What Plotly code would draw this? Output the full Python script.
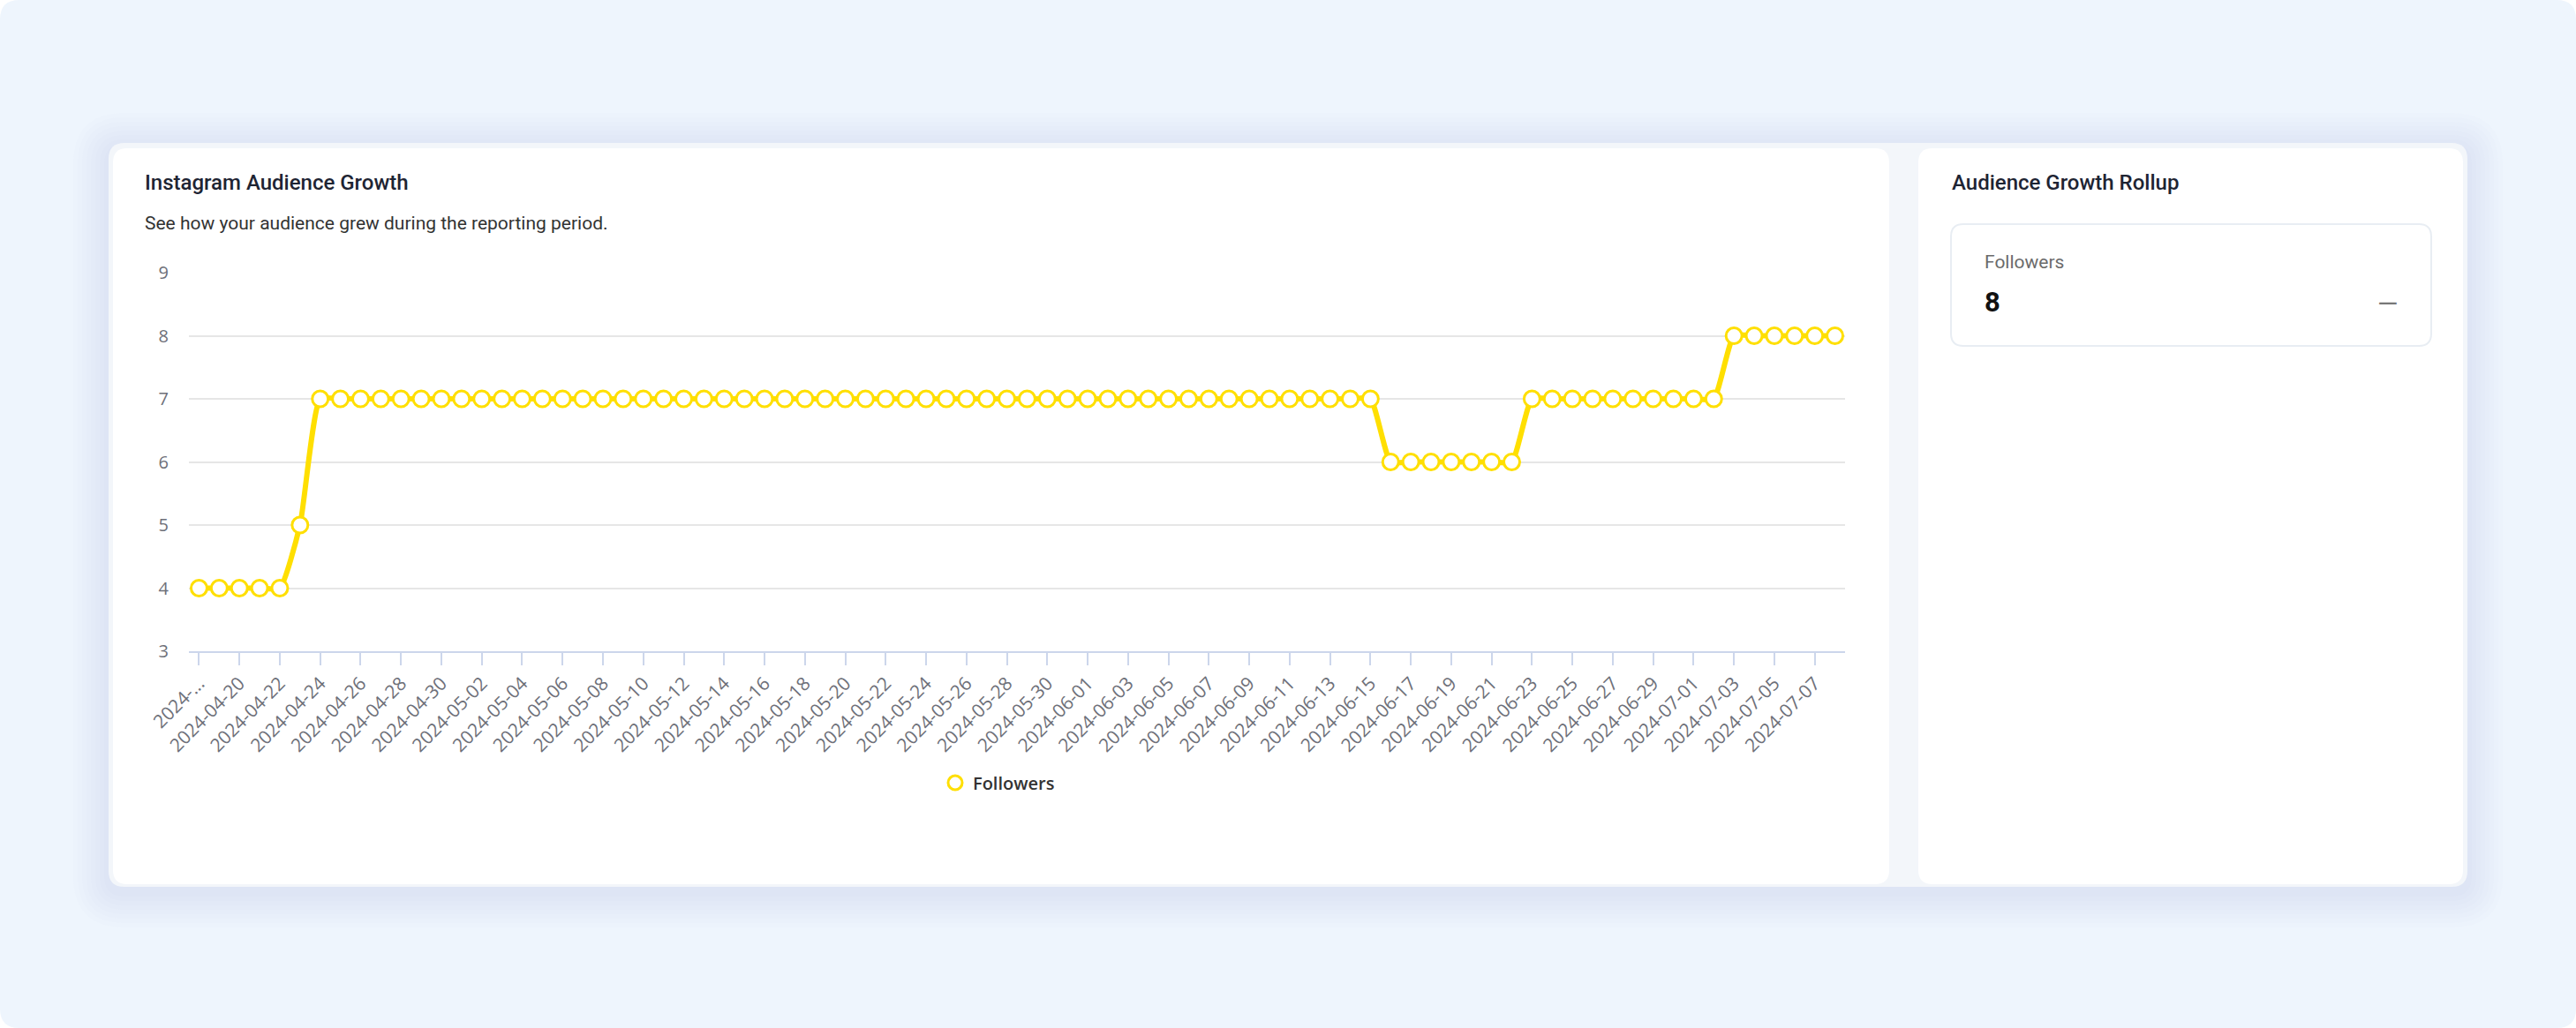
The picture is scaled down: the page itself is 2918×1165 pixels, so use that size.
import pandas as pd
import plotly.graph_objects as go

W, H = 2918, 1165

# data
dates = pd.date_range("2024-04-18", "2024-07-08").strftime("%Y-%m-%d").tolist()
followers = [
    4, 4, 4, 4, 4, 5, 7, 7, 7, 7, 7, 7, 7,           # Apr 18 - Apr 30
    7, 7, 7, 7, 7, 7, 7, 7, 7, 7, 7, 7, 7, 7, 7, 7,   # May 1 - May 16
    7, 7, 7, 7, 7, 7, 7, 7, 7, 7, 7, 7, 7, 7, 7,      # May 17 - May 31
    7, 7, 7, 7, 7, 7, 7, 7, 7, 7, 7, 7, 7, 7, 7,      # Jun 1 - Jun 15
    6, 6, 6, 6, 6, 6, 6,                              # Jun 16 - Jun 22
    7, 7, 7, 7, 7, 7, 7, 7, 7, 7,                     # Jun 23 - Jul 2
    8, 8, 8, 8, 8, 8,                                 # Jul 3 - Jul 8
]
tick_dates = dates[0:81:2]
tick_text = ["2024-..."] + tick_dates[1:]
y_ticks = [3, 4, 5, 6, 7, 8, 9]

rollup_label = "Followers"
rollup_value = "8"

YELLOW = "#FFDF00"


def X(px):
    return px / W


def Y(py):
    return 1 - py / H


def rrect(x0, y0, x1, y1, r):
    """rounded rectangle path in paper coords from pixel values"""
    return (
        f"M {X(x0 + r)},{Y(y0)} L {X(x1 - r)},{Y(y0)} "
        f"Q {X(x1)},{Y(y0)} {X(x1)},{Y(y0 + r)} "
        f"L {X(x1)},{Y(y1 - r)} Q {X(x1)},{Y(y1)} {X(x1 - r)},{Y(y1)} "
        f"L {X(x0 + r)},{Y(y1)} Q {X(x0)},{Y(y1)} {X(x0)},{Y(y1 - r)} "
        f"L {X(x0)},{Y(y0 + r)} Q {X(x0)},{Y(y0)} {X(x0 + r)},{Y(y0)} Z"
    )


def box(x0, y0, x1, y1, r, fill, line_color=None, line_width=0):
    return dict(
        type="path", xref="paper", yref="paper", layer="below",
        path=rrect(x0, y0, x1, y1, r), fillcolor=fill,
        line=dict(color=line_color or fill, width=line_width),
    )


shapes = [box(0, 0, W, H, 22, "#EEF5FD")]

# soft shadow around the outer card
for i in range(1, 9):
    d = 5 * i
    shapes.append(box(123 - d, 162 - d + 6, 2795 + d, 1005 + d + 6, 18 + d,
                      "rgba(140,165,210,0.02)"))

shapes += [
    box(123, 162, 2795, 1005, 18, "#F3F6FA"),
    box(128, 168, 2140, 1002, 16, "#FFFFFF"),
    box(2173, 168, 2790, 1002, 16, "#FFFFFF"),
    box(2210, 254, 2754, 392, 14, "#FFFFFF", "#E8EDF3", 2),
]


def label(text, px, py, size, color, weight=400, anchor="left", family="Roboto"):
    return dict(
        text=text, x=X(px), y=Y(py), xref="paper", yref="paper",
        xanchor=anchor, yanchor="middle", showarrow=False,
        font=dict(family=family, size=size, color=color, weight=weight),
    )


annotations = [
    label("Instagram Audience Growth", 162, 207, 24, "#1E2433", 500),
    label("See how your audience grew during the reporting period.", 162, 253, 21, "#333333"),
    label("Audience Growth Rollup", 2209, 207, 24, "#1E2433", 500),
    label(rollup_label, 2246, 297, 21, "#6B6B6B"),
    label(rollup_value, 2246, 342, 31, "#111111", 700),
    label("—", 2718, 343, 30, "#777777", anchor="right"),
]

fig = go.Figure()

fig.add_trace(go.Scatter(
    x=dates, y=followers, mode="lines", showlegend=False, hoverinfo="skip",
    line=dict(color=YELLOW, width=6, shape="spline", smoothing=0.5),
    cliponaxis=False,
))
fig.add_trace(go.Scatter(
    x=dates, y=followers, mode="markers", name="Followers",
    marker=dict(symbol="circle", size=18, color="#FFFFFF",
                line=dict(color=YELLOW, width=3)),
    cliponaxis=False,
))

fig.update_layout(
    width=W, height=H, autosize=False,
    margin=dict(l=0, r=0, t=0, b=0, pad=0),
    paper_bgcolor="#FFFFFF",
    plot_bgcolor="rgba(0,0,0,0)",
    font=dict(family="Open Sans", color="#6E7079"),
    shapes=shapes,
    annotations=annotations,
    xaxis=dict(
        type="category", domain=[X(214), X(2090)], range=[-0.5, 81.5],
        automargin=False,
        showgrid=False, zeroline=False,
        showline=True, linecolor="#CCD6EB", linewidth=2,
        ticks="outside", ticklen=14, tickwidth=2, tickcolor="#CCD6EB",
        tickvals=tick_dates, ticktext=tick_text, tickangle=-45,
        tickfont=dict(size=21, color="#6E7079"),
    ),
    yaxis=dict(
        domain=[Y(738), Y(309)], range=[3, 9], tickvals=y_ticks,
        automargin=False,
        showgrid=True, gridcolor="#E6E6E6", gridwidth=2,
        zeroline=False, showline=False, ticks="",
        ticklabelstandoff=22,
        tickfont=dict(size=20, color="#6E7079"),
    ),
    legend=dict(
        x=X(1062), y=Y(887), xanchor="left", yanchor="middle",
        orientation="h", bgcolor="rgba(0,0,0,0)",
        font=dict(family="Open Sans", size=20, color="#333333", weight=600),
    ),
)

# drop the default page margin so the figure sits at the window's corner
fig.write_html("out.html", config={"displayModeBar": False},
               post_script="document.body.style.margin = '0';")
